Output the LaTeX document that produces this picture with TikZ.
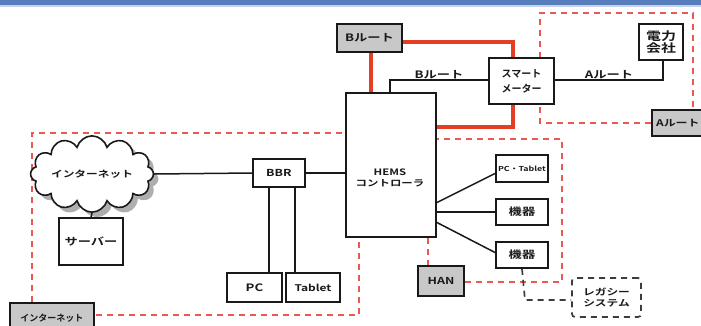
\documentclass[tikz,border=0pt]{standalone}
\usepackage{fontspec}
\newfontfamily\jpw[FakeStretch=1.3]{Noto Sans CJK JP Bold}
\newfontfamily\jp{Noto Sans CJK JP Bold}
\usetikzlibrary{shapes.symbols,shadows}
\definecolor{topblue}{RGB}{88,125,188}
\definecolor{reddash}{RGB}{234,88,84}
\definecolor{redroute}{RGB}{228,62,36}
\definecolor{graybox}{RGB}{200,200,200}
\definecolor{ink}{RGB}{25,25,25}
\newcommand{\fw}[1]{\jpw\fontsize{#1}{#1}\selectfont}
\tikzset{
  x=1pt,y=-1pt,
  every node/.style={font=\fw{10.2}, text=ink, inner sep=0pt, align=center},
  wbox/.style={draw=ink, line width=1.7pt, fill=white},
  gbox/.style={draw=ink, line width=1.7pt, fill=graybox},
  wire/.style={draw=ink, line width=1.5pt},
  rdash/.style={draw=reddash, line width=1.8pt, dash pattern=on 6pt off 5pt},
  kdash/.style={draw=ink!85, line width=1.7pt, dash pattern=on 6pt off 5pt},
  rroute/.style={draw=redroute, line width=3.4pt},
  lbl/.style={font=\fw{10.2}, above=0pt},
}
\begin{document}
\begin{tikzpicture}
\useasboundingbox (0,0) rectangle (701,325);
\clip (0,0) rectangle (701,325);
\fill[topblue] (0,0) rectangle (701,5);
\fill[topblue!35] (0,5) rectangle (701,7);

% dashed region outlines
\draw[rdash] (32,302) -- (32,133) -- (359,133) -- (359,315) -- (93,315);
\draw[rdash] (651,123) -- (540,123) -- (540,13) -- (693,13) -- (693,109);
\draw[rdash] (428,266) -- (428,139) -- (562,139) -- (562,282) -- (464,282);

% red B route
\draw[rroute] (402,42) -- (513,42) -- (513,127) -- (371,127) -- (371,52);

% nodes
\node[gbox, minimum width=65pt, minimum height=28pt] (bR) at (369.5,38) {Bルート};
\node[wbox, minimum width=65pt, minimum height=46pt, font=\jp\fontsize{10}{12}\selectfont] (sm) at (521.5,81) {スマート\\[3pt]メーター};
\node[wbox, minimum width=44pt, minimum height=36pt, font=\fw{11.5}] (pw) at (661,42) {電力\\[1pt]会社};
\node[gbox, minimum width=52pt, minimum height=26pt, anchor=north west, font=\fw{9.2}] (aR) at (651,109) {Aルート};
\node[wbox, minimum width=90pt, minimum height=144pt] (hems) at (391,165) {};
\node[font=\fw{8.8}] (hemst) at (390,178) {HEMS\\[3pt]コントローラ};
\node[wbox, minimum width=52pt, minimum height=28pt, font=\fw{9.6}] (bbr) at (279,173) {BBR};
\node[wbox, minimum width=55pt, minimum height=29pt] (pc) at (254.5,287.5) {PC};
\node[wbox, minimum width=54pt, minimum height=29pt, font=\fw{9.2}] (tab) at (313,287.5) {Tablet};
\node[draw=ink, line width=1.6pt, fill=white, shape=cloud, cloud puffs=12, aspect=2.1,
      minimum width=110pt, minimum height=58pt, font=\fw{9},
      drop shadow={shadow xshift=5pt, shadow yshift=-5pt, fill=black!45, opacity=0.7}] (cloud) at (92,174) {インターネット};
\node[wbox, minimum width=64pt, minimum height=47pt] (srv) at (91,241.5) {サーバー};
\node[wbox, minimum width=52pt, minimum height=27pt, font=\fw{6.8}] (pct) at (522,168.5) {PC・Tablet};
\node[wbox, minimum width=52pt, minimum height=26pt] (k1) at (522,212) {機器};
\node[wbox, minimum width=52pt, minimum height=26pt] (k2) at (522,255) {機器};
\node[gbox, minimum width=46pt, minimum height=30pt, font=\fw{9.6}] (han) at (441,281) {HAN};
\node[kdash, rounded corners=3pt, minimum width=69pt, minimum height=39pt, font=\fw{9}] (leg) at (606.5,297.5) {レガシー\\[2pt]システム};
\node[gbox, minimum width=84pt, minimum height=30pt, anchor=north west, font=\jp\fontsize{9}{10}\selectfont] (inet) at (9,302) {インターネット};

% connectors
\draw[wire] (cloud.east) -- (bbr.west);
\draw[wire] (bbr.east) -- (bbr.east -| hems.west);
\draw[wire] (cloud.south) -- (srv.north);
\draw[wire] (269,0 |- bbr.south) -- (269,0 |- pc.north);
\draw[wire] (295,0 |- bbr.south) -- (295,0 |- tab.north);
\draw[wire] (390,0 |- hems.north) -- (390,80) -- (sm.west |- 0,80) node[midway, lbl] {Bルート};
\draw[wire] (sm.east |- 0,80) -- (663,80) node[midway, lbl] {Aルート} -- (663,0 |- pw.south);
\draw[wire] (436,203) -- (496,173);
\draw[wire] (436,212) -- (k1.west);
\draw[wire] (436,222) -- (496,253);
\draw[kdash] (k2.south) -- (525,300) -- (leg.west |- 0,300);
\end{tikzpicture}
\end{document}
